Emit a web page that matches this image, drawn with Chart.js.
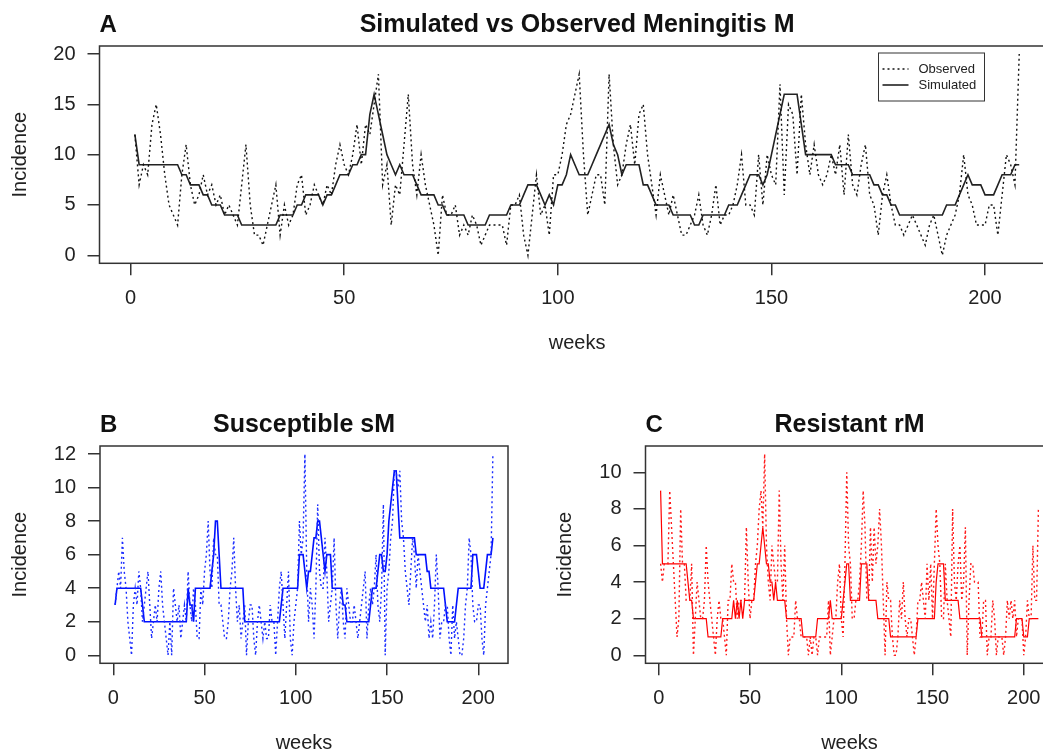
<!DOCTYPE html>
<html>
<head>
<meta charset="utf-8">
<script src="https://cdn.jsdelivr.net/npm/chart.js@4.4.1/dist/chart.umd.min.js"></script>
<style>
  html, body { margin: 0; padding: 0; background: #fff; overflow: hidden; }
  #page { position: relative; width: 1043px; height: 751px; overflow: hidden; background: #fff; }
  canvas { position: absolute; }
</style>
</head>
<body>
<div id="page">
  <canvas id="chartA" width="1100" height="375" style="left:0px;top:0px"></canvas>
  <canvas id="chartB" width="540" height="400" style="left:0px;top:380px"></canvas>
  <canvas id="chartC" width="555" height="400" style="left:545px;top:380px"></canvas>
</div>
<script>
// weeks 1..208
var weeks = Array.from({ length: 208 }, function (_, i) { return i + 1; });
var weekTicks = [0, 50, 100, 150, 200];

// A - meningitis M
var obsM = [
  12, 7, 9, 8, 13, 15, 12, 8, 5, 4,
  3, 8, 11, 7, 5, 6, 8, 6, 7, 5,
  6, 4, 5, 4, 3, 7, 11, 5, 2, 2,
  1, 3, 5, 7, 2, 5, 3, 4, 7, 8,
  4, 5, 7, 6, 5, 7, 6, 9, 11, 9,
  8, 10, 13, 9, 13, 12, 15, 18, 7, 9,
  3, 7, 6, 11, 16, 9, 6, 10, 7, 5,
  3, 0, 6, 4, 4, 5, 2, 3, 2, 4,
  3, 1, 2, 3, 3, 3, 3, 1, 5, 5,
  6, 2, 0, 4, 8, 4, 5, 2, 8, 8,
  10, 13, 14, 16, 18, 10, 4, 6, 8, 8,
  5, 18, 11, 7, 8, 11, 13, 9, 14, 15,
  10, 7, 4, 8, 6, 4, 6, 4, 2, 2,
  3, 4, 6, 3, 2, 4, 7, 3, 4, 4,
  5, 7, 10, 5, 5, 4, 10, 5, 10, 8,
  7, 17, 6, 15, 14, 8, 16, 11, 8, 11,
  8, 7, 8, 10, 8, 11, 6, 12, 7, 6,
  9, 11, 6, 5, 2, 6, 8, 5, 3, 3,
  2, 3, 4, 3, 2, 1, 3, 4, 2, 0,
  2, 3, 4, 6, 10, 6, 5, 3, 3, 3,
  5, 5, 2, 6, 10, 9, 7, 20
];
var simM = [
  12, 9, 9, 9, 9, 9, 9, 9, 9, 9,
  9, 8, 8, 7, 7, 7, 6, 6, 5, 5,
  5, 4, 4, 4, 4, 3, 3, 3, 3, 3,
  3, 3, 3, 3, 4, 4, 4, 4, 5, 5,
  6, 6, 6, 6, 5, 6, 6, 7, 8, 8,
  8, 9, 9, 10, 10, 14, 16, 14, 12, 10,
  9, 8, 9, 8, 8, 8, 7, 6, 6, 6,
  6, 5, 5, 4, 4, 4, 4, 4, 3, 3,
  3, 3, 3, 4, 4, 4, 4, 4, 5, 5,
  5, 6, 7, 7, 7, 6, 5, 6, 5, 7,
  7, 8, 10, 9, 8, 8, 8, 9, 10, 11,
  12, 13, 11, 10, 8, 9, 9, 9, 9, 7,
  7, 6, 5, 5, 5, 5, 4, 4, 4, 4,
  4, 3, 3, 4, 4, 4, 4, 4, 4, 5,
  5, 5, 6, 7, 8, 8, 8, 7, 8, 10,
  12, 14, 16, 16, 16, 16, 13, 10, 10, 10,
  10, 10, 10, 10, 9, 9, 9, 9, 8, 8,
  8, 8, 8, 7, 7, 6, 6, 5, 5, 4,
  4, 4, 4, 4, 4, 4, 4, 4, 4, 4,
  5, 5, 5, 6, 7, 8, 7, 7, 7, 6,
  6, 6, 7, 8, 8, 8, 9, 9
];
var ticksM = [0, 5, 10, 15, 20];

// B - susceptible sM
var obsS = [
  3, 4, 5, 4, 7, 5, 4, 2, 1, 0,
  3, 4, 3, 5, 4, 2, 3, 4, 5, 3,
  1, 2, 3, 2, 4, 5, 3, 2, 1, 0,
  2, 0, 4, 3, 2, 3, 1, 2, 3, 2,
  5, 3, 2, 4, 3, 1, 1, 4, 3, 5,
  6, 8, 5, 4, 7, 6, 6, 3, 3, 2,
  1, 1, 2, 4, 5, 7, 4, 2, 3, 1,
  2, 3, 0, 2, 3, 3, 1, 0, 2, 3,
  2, 1, 2, 1, 1, 3, 2, 2, 0, 2,
  4, 5, 3, 1, 3, 5, 1, 0, 2, 3,
  4, 8, 6, 7, 12, 5, 2, 4, 3, 1,
  4, 9, 5, 4, 4, 7, 5, 2, 3, 4,
  7, 3, 1, 3, 4, 2, 1, 4, 3, 2,
  2, 3, 2, 1, 2, 3, 4, 5, 1, 3,
  4, 3, 4, 6, 3, 2, 4, 9, 0, 4,
  5, 7, 8, 11, 11, 10, 11, 8, 7, 5,
  4, 3, 5, 7, 6, 4, 6, 5, 4, 3,
  2, 3, 1, 2, 1, 3, 6, 4, 1, 2,
  2, 3, 3, 1, 0, 3, 1, 2, 1, 0,
  0, 1, 3, 4, 7, 6, 3, 2, 2, 3,
  3, 1, 0, 3, 4, 5, 6, 12
];
var simS = [
  3, 4, 4, 4, 4, 4, 4, 4, 4, 4,
  4, 4, 4, 4, 4, 3, 2, 2, 2, 2,
  2, 2, 2, 2, 2, 2, 2, 2, 2, 2,
  2, 2, 2, 2, 2, 2, 2, 2, 2, 2,
  4, 3, 3, 2, 4, 4, 4, 4, 4, 4,
  4, 4, 4, 5, 6, 8, 8, 6, 4, 4,
  4, 4, 4, 4, 4, 4, 4, 4, 4, 4,
  4, 2, 2, 2, 2, 2, 2, 2, 2, 2,
  2, 2, 2, 2, 2, 2, 2, 2, 2, 2,
  2, 3, 4, 4, 4, 4, 4, 4, 4, 4,
  4, 6, 6, 6, 5, 4, 5, 5, 6, 7,
  7, 8, 8, 7, 6, 5, 6, 6, 6, 4,
  4, 4, 4, 4, 4, 3, 3, 2, 2, 2,
  2, 2, 2, 2, 2, 2, 2, 2, 2, 2,
  3, 4, 4, 4, 5, 6, 6, 5, 5, 6,
  8, 9, 10, 11, 11, 9, 7, 7, 7, 7,
  7, 7, 7, 7, 7, 6, 6, 6, 6, 6,
  6, 5, 5, 4, 4, 4, 4, 4, 4, 4,
  4, 3, 2, 2, 2, 2, 2, 3, 4, 4,
  4, 4, 4, 4, 4, 4, 6, 6, 6, 5,
  4, 4, 4, 5, 6, 6, 6, 7
];
var ticksS = [0, 2, 4, 6, 8, 10, 12];

// C - resistant rM
var obsR = [
  5, 4, 5, 5, 5, 9, 7, 5, 3, 1,
  2, 8, 5, 5, 3, 3, 3, 5, 0, 2,
  4, 3, 2, 2, 3, 6, 4, 3, 2, 1,
  0, 2, 3, 2, 2, 1, 0, 3, 3, 5,
  4, 4, 2, 3, 3, 3, 3, 7, 4, 2,
  3, 3, 5, 6, 8, 9, 7, 11, 6, 4,
  3, 6, 5, 4, 4, 9, 5, 3, 6, 2,
  0, 1, 1, 1, 3, 2, 2, 1, 1, 1,
  1, 0, 1, 0, 1, 1, 0, 1, 1, 1,
  1, 1, 3, 0, 1, 2, 2, 4, 5, 2,
  1, 5, 10, 6, 5, 2, 2, 3, 3, 4,
  6, 9, 7, 3, 3, 7, 4, 7, 5, 6,
  8, 6, 3, 0, 4, 3, 3, 1, 0, 0,
  1, 3, 2, 4, 2, 1, 2, 2, 1, 0,
  1, 3, 3, 4, 3, 2, 5, 3, 5, 2,
  5, 8, 6, 5, 2, 2, 5, 3, 2, 1,
  8, 4, 3, 5, 6, 3, 4, 7, 0, 3,
  5, 5, 4, 4, 4, 1, 1, 3, 3, 0,
  1, 1, 3, 2, 0, 1, 1, 1, 0, 1,
  3, 2, 3, 2, 3, 1, 2, 2, 2, 0,
  1, 3, 2, 2, 6, 3, 3, 8
];
var simR = [
  9, 5, 5, 5, 5, 5, 5, 5, 5, 5,
  5, 5, 5, 5, 5, 4, 3, 3, 2, 2,
  2, 2, 2, 2, 2, 2, 1, 1, 1, 1,
  1, 1, 1, 1, 2, 2, 2, 2, 2, 2,
  3, 2, 3, 2, 3, 2, 3, 3, 3, 3,
  3, 3, 4, 5, 5, 6, 7, 6, 5, 5,
  4, 4, 3, 4, 3, 3, 3, 3, 3, 2,
  2, 2, 2, 2, 2, 2, 2, 2, 1, 1,
  1, 1, 1, 1, 1, 1, 2, 2, 2, 2,
  2, 2, 2, 3, 2, 2, 2, 2, 2, 2,
  3, 4, 5, 5, 3, 3, 3, 3, 3, 3,
  5, 5, 5, 5, 3, 3, 3, 3, 3, 2,
  2, 2, 2, 2, 2, 2, 1, 1, 1, 1,
  1, 1, 1, 1, 1, 1, 1, 1, 1, 1,
  1, 2, 2, 2, 2, 2, 2, 2, 2, 2,
  2, 4, 5, 5, 5, 5, 3, 3, 3, 3,
  3, 3, 3, 3, 2, 2, 2, 2, 2, 2,
  2, 2, 2, 2, 2, 2, 1, 1, 1, 1,
  1, 1, 1, 1, 1, 1, 1, 1, 1, 1,
  1, 1, 1, 1, 1, 2, 2, 2, 2, 1,
  1, 1, 2, 2, 2, 2, 2, 2
];
var ticksR = [0, 2, 4, 6, 8, 10];

var FONT = '"Liberation Sans", Arial, Helvetica, sans-serif';
var INK = '#222';

Chart.defaults.font.family = FONT;
Chart.defaults.color = INK;

// box, panel title, letter and (optional) legend
var panelDecor = {
  id: 'panelDecor',
  afterDatasetsDraw: function (chart, args, opts) {
    var ctx = chart.ctx, a = chart.chartArea;
    ctx.save();
    ctx.strokeStyle = '#333';
    ctx.lineWidth = 1.5;
    ctx.setLineDash([]);
    ctx.strokeRect(a.left, a.top, a.right - a.left, a.bottom - a.top);

    ctx.fillStyle = '#111';
    ctx.font = 'bold 25px ' + FONT;
    ctx.textBaseline = 'alphabetic';
    ctx.textAlign = 'center';
    ctx.fillText(opts.title, (a.left + a.right) / 2, a.top - 14);
    ctx.font = 'bold 24px ' + FONT;
    ctx.textAlign = 'left';
    ctx.fillText(opts.letter, a.left, a.top - 14);

    if (opts.legend) {
      var lx = a.left + 779, ly = a.top + 7, lw = 106, lh = 48;
      ctx.lineWidth = 1;
      ctx.strokeStyle = '#333';
      ctx.strokeRect(lx, ly, lw, lh);
      ctx.font = '13px ' + FONT;
      ctx.textBaseline = 'middle';
      chart.data.datasets.forEach(function (ds, i) {
        var yy = ly + 16 + i * 16;
        ctx.strokeStyle = ds.borderColor;
        ctx.lineWidth = ds.borderWidth;
        ctx.setLineDash(ds.borderDash || []);
        ctx.beginPath();
        ctx.moveTo(lx + 4, yy);
        ctx.lineTo(lx + 30, yy);
        ctx.stroke();
        ctx.setLineDash([]);
        ctx.fillStyle = INK;
        ctx.fillText(ds.label, lx + 40, yy);
      });
    }
    ctx.restore();
  }
};

function points(vals) {
  return weeks.map(function (w, i) { return { x: w, y: vals[i] }; });
}

function panel(id, o) {
  return new Chart(document.getElementById(id), {
    type: 'line',
    data: {
      datasets: [
        {
          label: 'Observed',
          data: points(o.obs),
          borderColor: o.obsColor,
          borderWidth: 1.4,
          borderDash: [2, 3],
          pointRadius: 0,
          tension: 0,
          fill: false
        }, {
          label: 'Simulated',
          data: points(o.sim),
          borderColor: o.simColor,
          borderWidth: o.simWidth,
          pointRadius: 0,
          tension: 0,
          fill: false
        }
      ]
    },
    options: {
      responsive: false,
      animation: false,
      events: [],
      layout: { padding: o.pad },
      plugins: {
        legend: { display: false },
        tooltip: { enabled: false },
        panelDecor: { title: o.title, letter: o.letter, legend: o.legend }
      },
      scales: {
        x: {
          type: 'linear',
          bounds: 'data',
          min: -7.28,
          max: 216.28,
          afterBuildTicks: function (s) { s.ticks = weekTicks.map(function (v) { return { value: v }; }); },
          afterFit: function (s) { s.height = o.xH; },
          grid: { display: true, drawOnChartArea: false, drawTicks: true, tickLength: 12, color: '#333', lineWidth: 1.5 },
          border: { display: false },
          ticks: { font: { size: 20 }, color: INK, padding: 11, maxRotation: 0, autoSkip: false },
          title: { display: true, text: 'weeks', font: { size: 20 }, color: INK, padding: { top: 0, bottom: o.xTitlePad } }
        },
        y: {
          type: 'linear',
          bounds: 'data',
          min: o.yMin,
          max: o.yMax,
          afterBuildTicks: function (s) { s.ticks = o.yTicks.map(function (v) { return { value: v }; }); },
          afterFit: function (s) { s.width = o.yW; },
          grid: { display: true, drawOnChartArea: false, drawTicks: true, tickLength: 12, color: '#333', lineWidth: 1.5 },
          border: { display: false },
          ticks: { font: { size: 20 }, color: INK, padding: 12 },
          title: { display: true, text: 'Incidence', font: { size: 20 }, color: INK, padding: { top: 8, bottom: 0 } }
        }
      }
    },
    plugins: [panelDecor]
  });
}

panel('chartA', {
  obs: obsM, sim: simM, obsColor: '#111', simColor: '#222', simWidth: 1.6,
  title: 'Simulated vs Observed Meningitis M', letter: 'A', legend: true,
  yMin: -0.8, yMax: 20.8, yTicks: ticksM,
  pad: { left: 0, top: 46, right: 45.4, bottom: 0 }, yW: 99.5, xH: 111.7, xTitlePad: 20
});

panel('chartB', {
  obs: obsS, sim: simS, obsColor: '#1a2cff', simColor: '#0010ff', simWidth: 1.6,
  title: 'Susceptible sM', letter: 'B', legend: false,
  yMin: -0.48, yMax: 12.48, yTicks: ticksS,
  pad: { left: 0, top: 66, right: 32, bottom: 0 }, yW: 100, xH: 116.7, xTitlePad: 25
});

panel('chartC', {
  obs: obsR, sim: simR, obsColor: '#ff1a1a', simColor: '#ff0000', simWidth: 1.2,
  title: 'Resistant rM', letter: 'C', legend: false,
  yMin: -0.44, yMax: 11.44, yTicks: ticksR,
  pad: { left: 0, top: 66, right: 46.5, bottom: 0 }, yW: 100.5, xH: 116.7, xTitlePad: 25
});
</script>
</body>
</html>
